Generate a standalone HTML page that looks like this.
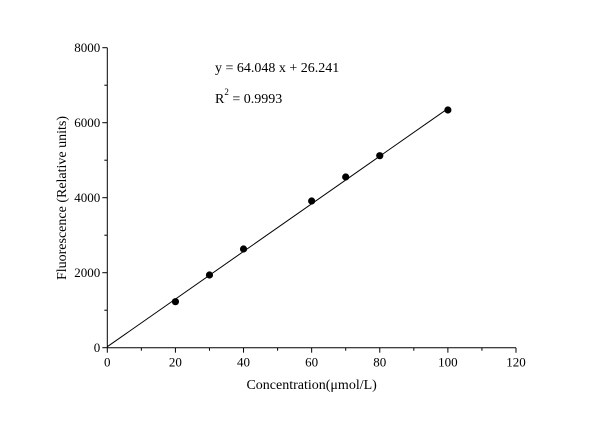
<!DOCTYPE html>
<html><head><meta charset="utf-8"><style>
body{margin:0;background:#fff;}
svg text{font-family:"Liberation Serif","Times New Roman",serif;fill:#000;}
</style></head><body>
<svg id="c" width="600" height="418" viewBox="0 0 600 418" xmlns="http://www.w3.org/2000/svg"></svg>
<script>
const xCats=[20,30,40,60,70,80,100];
const yVals=[1227,1939,2632,3912,4552,5120,6339];
const xTicks=[0,20,40,60,80,100,120];
const yTicks=[0,2000,4000,6000,8000];
const slope=64.048, intercept=26.241;
const NS='http://www.w3.org/2000/svg';
const svg=document.getElementById('c');
const X0=107.3,X1=516,Y0=347.7,Y1=47.7;
const sx=v=>X0+(v/120)*(X1-X0);
const sy=v=>Y0-(v/8000)*(Y0-Y1);
function mk(t,a,p){const e=document.createElementNS(NS,t);for(const k in a)e.setAttribute(k,a[k]);(p||svg).appendChild(e);return e;}
let e;
e=mk('line',{x1:X0,y1:Y0,x2:X1,y2:Y0,stroke:'#000','stroke-width':1});


e=mk('line',{x1:X0,y1:Y0,x2:X0,y2:Y1,stroke:'#000','stroke-width':1});


for(let v=0;v<=120;v+=10){const maj=v%20===0;
e=mk('line',{x1:sx(v),y1:Y0,x2:sx(v),y2:Y0+(maj?5:3),stroke:'#000'});

}
for(let v=0;v<=8000;v+=1000){const maj=v%2000===0;
e=mk('line',{x1:X0,y1:sy(v),x2:X0-(maj?5:3),y2:sy(v),stroke:'#000'});

}
xTicks.forEach(v=>{e=mk('text',{x:sx(v),y:Y0+19,'text-anchor':'middle','font-size':13});e.textContent=v;

});
yTicks.forEach(v=>{e=mk('text',{x:X0-7,y:sy(v)+4.5,'text-anchor':'end','font-size':13});e.textContent=v;

});
e=mk('line',{x1:sx(0),y1:sy(intercept),x2:sx(100),y2:sy(slope*100+intercept)+2,stroke:'#000','stroke-width':1});


xCats.forEach((x,i)=>{e=mk('circle',{cx:sx(x),cy:sy(yVals[i]),r:3.6,fill:'#000'});

});
e=mk('text',{x:(X0+X1)/2,y:389,'text-anchor':'middle','font-size':14});e.textContent='Concentration(μmol/L)';


e=mk('text',{x:0,y:0,'text-anchor':'middle','font-size':14,transform:'translate(66,198) rotate(-90)'});e.textContent='Fluorescence (Relative units)';


e=mk('text',{x:215,y:72,'font-size':14});e.textContent='y = 64.048 x + 26.241';


e=mk('text',{x:215,y:103,'font-size':14});e.innerHTML='R<tspan dy="-8" font-size="9">2</tspan><tspan dy="8"> = 0.9993</tspan>';


</script>
</body></html>
